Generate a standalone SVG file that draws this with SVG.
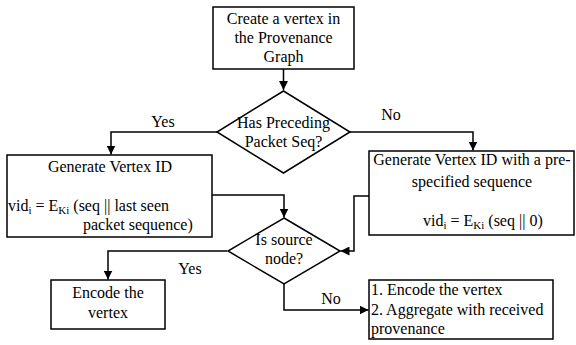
<svg xmlns="http://www.w3.org/2000/svg" width="576" height="345" viewBox="0 0 576 345" font-family="Liberation Serif, Times New Roman, serif" font-size="16">
<defs>
<style>
.c{text-anchor:middle}
.sub{font-size:11px}
.shape{fill:#fff;stroke:#000;stroke-width:1.5}
.conn{fill:none;stroke:#000;stroke-width:1.5}
</style>
<marker id="arr" markerUnits="userSpaceOnUse" markerWidth="9" markerHeight="9" viewBox="0 0 10 10" refX="10" refY="5" orient="auto">
<path d="M0,0 L10,5 L0,10 z" fill="#000"/>
</marker>
</defs>
<rect width="576" height="345" fill="#fff"/>
<g id="connectors">
<path class="conn" d="M283.5,69 V90" marker-end="url(#arr)"/>
<path class="conn" d="M217,132 H111 V154.5" marker-end="url(#arr)"/>
<path class="conn" d="M350,132 H473 V150.5" marker-end="url(#arr)"/>
<path class="conn" d="M212,195 H284 V217.5" marker-end="url(#arr)"/>
<path class="conn" d="M369,196 H354 V251 H340.5" marker-end="url(#arr)"/>
<path class="conn" d="M227,251 H108 V279.5" marker-end="url(#arr)"/>
<path class="conn" d="M284,284 V310 H368.5" marker-end="url(#arr)"/>
<text class="c" x="163" y="127">Yes</text>
<text class="c" x="391" y="120">No</text>
<text class="c" x="190" y="274">Yes</text>
<text class="c" x="331" y="304">No</text>
</g>
<g id="start">
<rect class="shape" x="213" y="7" width="141" height="62"/>
<text class="c" x="283.5" y="24">Create a vertex in</text>
<text class="c" x="283.5" y="43">the Provenance</text>
<text class="c" x="283.5" y="62">Graph</text>
</g>
<g id="decision1">
<polygon class="shape" points="283.5,91 350,132 283.5,173 217,132"/>
<text class="c" x="283.5" y="128">Has Preceding</text>
<text class="c" x="283.5" y="147">Packet Seq?</text>
</g>
<g id="genYes">
<rect class="shape" x="7" y="155" width="205" height="82"/>
<text class="c" x="110" y="172">Generate Vertex ID</text>
<text x="8" y="211">vid<tspan class="sub" dy="3">i</tspan><tspan dy="-3"> = E</tspan><tspan class="sub" dy="3">Ki</tspan><tspan dy="-3"> (seq || last seen</tspan></text>
<text x="83" y="230">packet sequence)</text>
</g>
<g id="genNo">
<rect class="shape" x="369" y="151" width="205" height="84"/>
<text class="c" x="472" y="165">Generate Vertex ID with a pre-</text>
<text class="c" x="472" y="187">specified sequence</text>
<text x="423" y="226">vid<tspan class="sub" dy="3">i</tspan><tspan dy="-3"> = E</tspan><tspan class="sub" dy="3">Ki</tspan><tspan dy="-3"> (seq || 0)</tspan></text>
</g>
<g id="decision2">
<polygon class="shape" points="284,218 340,251 284,284 228,251"/>
<text class="c" x="284" y="245">Is source</text>
<text class="c" x="284" y="264">node?</text>
</g>
<g id="encode">
<rect class="shape" x="51" y="280" width="114" height="49"/>
<text class="c" x="108" y="298">Encode the</text>
<text class="c" x="108" y="318">vertex</text>
</g>
<g id="aggregate">
<rect class="shape" x="369" y="280" width="184" height="59"/>
<text x="371" y="295">1. Encode the vertex</text>
<text x="371" y="315">2. Aggregate with received</text>
<text x="371" y="334">provenance</text>
</g>
</svg>
